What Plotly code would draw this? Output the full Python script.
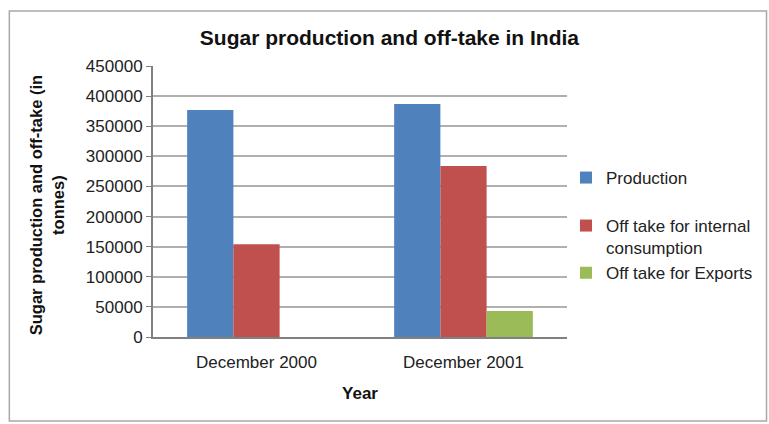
import plotly.graph_objects as go

categories = ["December 2000", "December 2001"]
production = [377000, 387000]
internal = [154000, 284000]
exports = [0, 43000]
series_names = ["Production", "Off take for internal<br>consumption", "Off take for Exports"]
colors = ["#4F81BD", "#C0504D", "#9BBB59"]
ytick_vals = list(range(0, 450001, 50000))

W, H = 769, 424
L, R, T, B = 153, 568, 66, 337
pw, ph = R - L, B - T

def px(x):
    return (x - L) / pw

def py(y):
    return (B - y) / ph

font = "Liberation Sans, Arial, sans-serif"

fig = go.Figure()
legend_refs = ["legend", "legend2", "legend2"]
groups = ["a", "b", "c"]
for name, vals, col, lg, g in zip(series_names, [production, internal, exports], colors, legend_refs, groups):
    fig.add_trace(go.Bar(x=categories, y=vals, name=name, marker=dict(color=col, line=dict(width=0)),
                         legend=lg, legendgroup=g))

legend_common = dict(xanchor="left", yanchor="top", traceorder="grouped", valign="top",
                     font=dict(size=17, color="#222"), bgcolor="rgba(0,0,0,0)")

fig.update_layout(
    width=W, height=H,
    margin=dict(l=L, r=W - R, t=T, b=H - B),
    paper_bgcolor="white", plot_bgcolor="white",
    font=dict(family=font, size=17, color="#222"),
    barmode="group", bargap=0.33, bargroupgap=0,
    title=dict(text="<b>Sugar production and off-take in India</b>", x=px(390), xref="paper",
               xanchor="center", y=1 - 38 / H, yanchor="middle", font=dict(size=21, color="#111")),
    showlegend=True,
    legend=dict(x=px(566), y=py(160), tracegroupgap=0, **legend_common),
    legend2=dict(x=px(566), y=py(208), tracegroupgap=0, **legend_common),
    xaxis=dict(showline=True, linecolor="#808080", linewidth=2, ticks="", showgrid=False,
               tickfont=dict(size=17, color="#222"), ticklabelstandoff=9,
               title=dict(text="<b>Year</b>", font=dict(size=17, color="#111"), standoff=16)),
    yaxis=dict(range=[0, 450000], tickvals=ytick_vals, ticktext=[str(v) for v in ytick_vals],
               showline=True, linecolor="#808080", linewidth=2, ticks="outside", ticklen=5,
               tickcolor="#808080", gridcolor="#b0b0b0", gridwidth=1.5, zeroline=False,
               tickfont=dict(size=17, color="#222")),
)

fig.add_annotation(text="<b>Sugar production and off-take (in<br>tonnes)</b>", textangle=-90,
                   xref="paper", yref="paper", x=px(47), y=py(205), xanchor="center", yanchor="middle",
                   showarrow=False, font=dict(size=16.5, color="#111"))

fig.add_shape(type="rect", xref="paper", yref="paper", x0=px(9), x1=px(768), y0=py(421), y1=py(11),
              line=dict(color="#a8a8a8", width=1.5), layer="below")

fig.write_html("out.html", config={"displayModeBar": False},
               post_script="document.body.style.margin='0';")
